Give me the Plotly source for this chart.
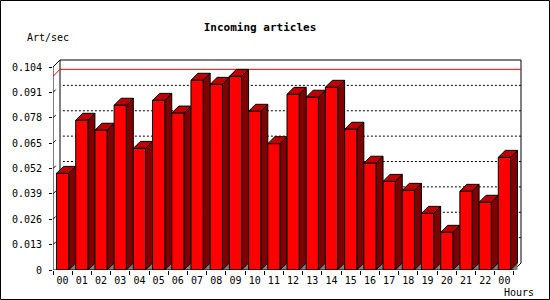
import plotly.graph_objects as go

# ---------------- data ----------------
hours = ["00", "01", "02", "03", "04", "05", "06", "07", "08", "09", "10", "11",
         "12", "13", "14", "15", "16", "17", "18", "19", "20", "21", "22", "00"]
rates = [0.0495, 0.0767, 0.0716, 0.0844, 0.0623, 0.0869, 0.0804, 0.0972,
         0.0951, 0.0992, 0.0813, 0.0647, 0.0900, 0.0885, 0.0936, 0.0721,
         0.0547, 0.0454, 0.0408, 0.0290, 0.0193, 0.0403, 0.0347, 0.0577]
y_ticks = [0.0, 0.013, 0.026, 0.039, 0.052, 0.065, 0.078, 0.091, 0.104]
y_labels = ["0", "0.013", "0.026", "0.039", "0.052", "0.065", "0.078", "0.091", "0.104"]
title_text = "Incoming articles"
y_title = "Art/sec"
x_title = "Hours"

# ---------------- geometry / style ----------------
W, H = 550, 300
L, T = 53, 59
PW, PH = 469, 211
n = len(hours)
y_top = y_ticks[-1]
px_y = y_top / 203.0          # value units per pixel
DY = 7 * px_y                 # depth in value units
x_left, x_right = -0.5, n - 0.5
px_x = 19.19                  # pixels per category
DX = 7 / px_x                 # depth in category units
HW = 0.3175
padX = 1 / px_x
padY = 1 * px_y

FONT = "DejaVu Sans Mono"
FRONT, TOP, SIDE, SHADOW = "#ff0000", "#c00000", "#800000", "#808080"

fig = go.Figure()


def seg_trace(segs, color, dash="solid", width=1):
    xs, ys = [], []
    for sx, sy in segs:
        xs += list(sx) + [None]
        ys += list(sy) + [None]
    fig.add_trace(go.Scatter(x=xs, y=ys, mode="lines",
                             line=dict(color=color, width=width, dash=dash),
                             hoverinfo="skip", showlegend=False))


def poly_trace(polys, fill, line_color=None):
    xs, ys = [], []
    for px, py in polys:
        xs += list(px) + [None]
        ys += list(py) + [None]
    fig.add_trace(go.Scatter(x=xs, y=ys, mode="lines", fill="toself",
                             fillcolor=fill,
                             line=dict(color=line_color or fill, width=1 if line_color else 0),
                             hoverinfo="skip", showlegend=False))


# back frame
bx0, bx1 = x_left + DX, x_right + DX
seg_trace([([bx0, bx0, bx1, bx1, x_right], [DY, y_top + DY, y_top + DY, DY, 0])], "black")

# dotted grid on back wall
seg_trace([([bx0 + 0.15, bx1], [v + DY, v + DY]) for v in y_ticks[1:-1]], "black", dash="2px,2px")
# small ticks on left wall
seg_trace([([x_left, x_left + DX * 0.4], [v, v + DY * 0.4]) for v in y_ticks[1:-1]], "black")

# max line
m = max(rates)
seg_trace([([x_left, bx0, bx1], [m, m + DY, m + DY])], "red")

# bars
sides, tops, fronts, shadows = [], [], [], []
for i, v in enumerate(rates):
    x0, x1 = i - HW, i + HW
    fronts.append(([x0, x1, x1, x0, x0], [0, 0, v, v, 0]))
    tops.append(([x0, x0 + DX, x1 + DX, x1, x0], [v, v + DY, v + DY, v, v]))
    sides.append(([x1, x1 + DX, x1 + DX, x1, x1], [0, DY, v + DY, v, 0]))
    shadows.append(([x1, x1 + DX, x1 + DX, x1], [0, DY, 0, 0]))
poly_trace(shadows, SHADOW)
poly_trace(sides, SIDE, "black")
poly_trace(tops, TOP, "black")
poly_trace(fronts, FRONT, "black")

# front axes + left top edge
seg_trace([([x_left, x_left], [0, y_top]),
           ([x_left, x_right], [0, 0]),
           ([x_left, bx0], [y_top, y_top + DY])], "black")


def paper_x(px):
    return (px - L) / PW


def paper_y(py):
    return 1 - (py - T) / PH


fig.update_layout(
    width=W, height=H,
    margin=dict(l=L, r=W - L - PW, t=T, b=H - T - PH, pad=0),
    paper_bgcolor="white", plot_bgcolor="white",
    showlegend=False,
    font=dict(family=FONT, size=10, color="black"),
    title=dict(text="<b>" + title_text + "</b>", x=260 / W, xref="container",
               y=1 - 27 / H, yref="container", xanchor="center", yanchor="middle",
               font=dict(family=FONT, size=11, color="black")),
    xaxis=dict(range=[x_left, x_right + DX + padX], tickmode="array",
               tickvals=list(range(n)), ticktext=hours,
               ticks="outside", ticklen=1, tickcolor="rgba(0,0,0,0)",
               minor=dict(tickmode="array", tickvals=[i - 0.5 for i in range(n + 1)],
                          ticks="outside", ticklen=4, tickcolor="black", tickwidth=1),
               showgrid=False, zeroline=False, showline=False,
               tickfont=dict(family=FONT, size=10, color="black"), fixedrange=True),
    yaxis=dict(range=[0, y_top + DY + padY], tickmode="array",
               tickvals=y_ticks, ticktext=y_labels,
               ticks="outside", ticklen=3, tickcolor="black", tickwidth=1,
               ticklabelstandoff=5,
               showgrid=False, zeroline=False, showline=False,
               tickfont=dict(family=FONT, size=10, color="black"), fixedrange=True),
    annotations=[
        dict(text=y_title, x=paper_x(48), y=paper_y(37.5), xref="paper", yref="paper",
             showarrow=False, xanchor="center", yanchor="middle",
             font=dict(family=FONT, size=10, color="black")),
        dict(text=x_title, x=paper_x(519), y=paper_y(292), xref="paper", yref="paper",
             showarrow=False, xanchor="center", yanchor="middle",
             font=dict(family=FONT, size=10, color="black")),
    ],
    shapes=[dict(type="rect", xref="paper", yref="paper",
                 x0=paper_x(0.5), x1=paper_x(W - 0.5), y0=paper_y(H - 0.5), y1=paper_y(0.5),
                 line=dict(color="black", width=1), fillcolor="rgba(0,0,0,0)", layer="above")],
)

fig.write_html("out.html", config={"displayModeBar": False, "staticPlot": True})
